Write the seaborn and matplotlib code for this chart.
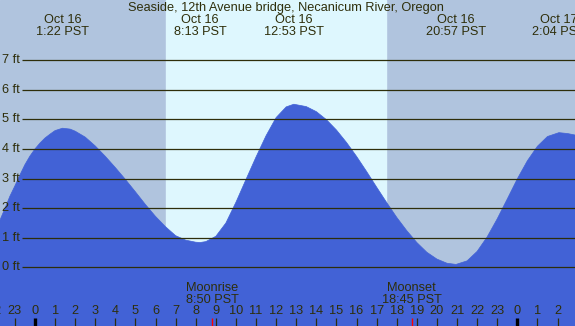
import numpy as np
import pandas as pd
import matplotlib
matplotlib.use('Agg')
import matplotlib.pyplot as plt
import seaborn as sns

# Tide heights (hours after midnight Oct 16, PST; feet)
tide_hours = [-1.74, -1.5, -1.25, -1.0, -0.75, -0.5, -0.25, 0.0, 0.25, 0.5, 0.75, 1.0,
              1.37, 1.75, 2.0, 2.5, 3.0, 3.5, 4.0, 4.5, 5.0, 5.5, 6.0, 6.5, 7.0, 7.5,
              8.0, 8.22, 8.5, 9.0, 9.5, 10.0, 10.5, 11.0, 11.5, 12.0, 12.5, 12.88,
              13.5, 14.0, 14.5, 15.0, 15.5, 16.0, 16.5, 17.0, 17.5, 18.0, 18.5,
              19.0, 19.5, 20.0, 20.5, 20.95, 21.5, 22.0, 22.5, 23.0, 23.5, 24.0,
              24.5, 25.0, 25.5, 26.07, 26.5, 26.87]
tide_feet = [1.60, 1.98, 2.4, 2.75, 3.12, 3.47, 3.76, 4.0, 4.2, 4.37, 4.5, 4.62,
             4.70, 4.67, 4.6, 4.4, 4.1, 3.75, 3.37, 2.97, 2.55, 2.12, 1.72, 1.37, 1.07, 0.92,
             0.85, 0.84, 0.87, 1.05, 1.5, 2.2, 2.97, 3.73, 4.45, 5.06, 5.42, 5.51,
             5.43, 5.26, 4.99, 4.64, 4.22, 3.75, 3.24, 2.71, 2.19, 1.69, 1.24,
             0.84, 0.51, 0.28, 0.14, 0.1, 0.22, 0.54, 1.03, 1.64, 2.31, 2.99,
             3.6, 4.09, 4.42, 4.55, 4.52, 4.47]

# High / low tide labels along the top
extreme_hours = [1.37, 8.22, 12.88, 20.95, 26.07]
extreme_dates = ['Oct 16', 'Oct 16', 'Oct 16', 'Oct 16', 'Oct 17']
extreme_times = ['1:22 PST', '8:13 PST', '12:53 PST', '20:57 PST', '2:04 PST']

# Sun and moon
sunrise, sunset = 6.51, 17.45
moon_hours = [8.83, 18.75]
moon_names = ['Moonrise', 'Moonset']
moon_times = ['8:50 PST', '18:45 PST']

# Axis labels
feet_levels = [0, 1, 2, 3, 4, 5, 6, 7]
hour_ticks = list(range(-2, 27))
hour_labels = [str(h % 24) for h in hour_ticks]

title = 'Seaside, 12th Avenue bridge, Necanicum River, Oregon'

night_col = '#b0c4de'
day_col = '#def7fe'
water_col = '#4262d6'
ink = '#2e2e0a'
fs = 9.2

sns.set_style('white')
plt.rcParams['font.family'] = ['Liberation Sans', 'DejaVu Sans']

fig = plt.figure(figsize=(5.75, 3.26), dpi=100)
ax = fig.add_axes([0, 0, 1, 1])
xmin, xmax = -1.74, 26.87
ymin, ymax = -1.98, 9.03

# night / day background
ax.axvspan(xmin, xmax, color=night_col, zorder=0)
ax.axvspan(sunrise, sunset, color=day_col, zorder=0)

# tide curve
df = pd.DataFrame({'hour': tide_hours, 'feet': tide_feet})
ax.fill_between(df['hour'], ymin, df['feet'], color=water_col, lw=0, zorder=1)
sns.lineplot(data=df, x='hour', y='feet', color=water_col, lw=0.5, ax=ax, zorder=1)
ax.set_xlim(xmin, xmax)
ax.set_ylim(ymin, ymax)
ax.axis('off')

# horizontal levels
for f in feet_levels:
    ax.hlines(f, -0.65, xmax, color=ink, lw=0.9, zorder=2)
    ax.text(-0.75, f, f'{f} ft', ha='right', va='center', fontsize=fs, color=ink, zorder=3)

# top labels
ax.text(12.5, 8.75, title, ha='center', va='center', fontsize=fs, color=ink)
for h, d, t in zip(extreme_hours, extreme_dates, extreme_times):
    ax.text(h, 8.37, d, ha='center', va='center', fontsize=fs, color=ink)
    ax.text(h, 7.95, t, ha='center', va='center', fontsize=fs, color=ink)

# moon labels
for h, n, t in zip(moon_hours, moon_names, moon_times):
    ax.text(h, -0.69, n, ha='center', va='center', fontsize=fs, color=ink)
    ax.text(h, -1.10, t, ha='center', va='center', fontsize=fs, color=ink)
    ax.vlines(h, -1.71, ymin, color='red', lw=1.0, zorder=3)

# hour ticks
for h, lab in zip(hour_ticks, hour_labels):
    ax.text(h, -1.48, lab, ha='center', va='center', fontsize=fs, color=ink)
    if lab == '0':
        ax.vlines(h, -1.71, ymin, color='black', lw=2.4, zorder=3)
    else:
        ax.vlines(h, -1.71, ymin, color=ink, lw=0.9, zorder=3)

fig.savefig('out.png', dpi=100)
